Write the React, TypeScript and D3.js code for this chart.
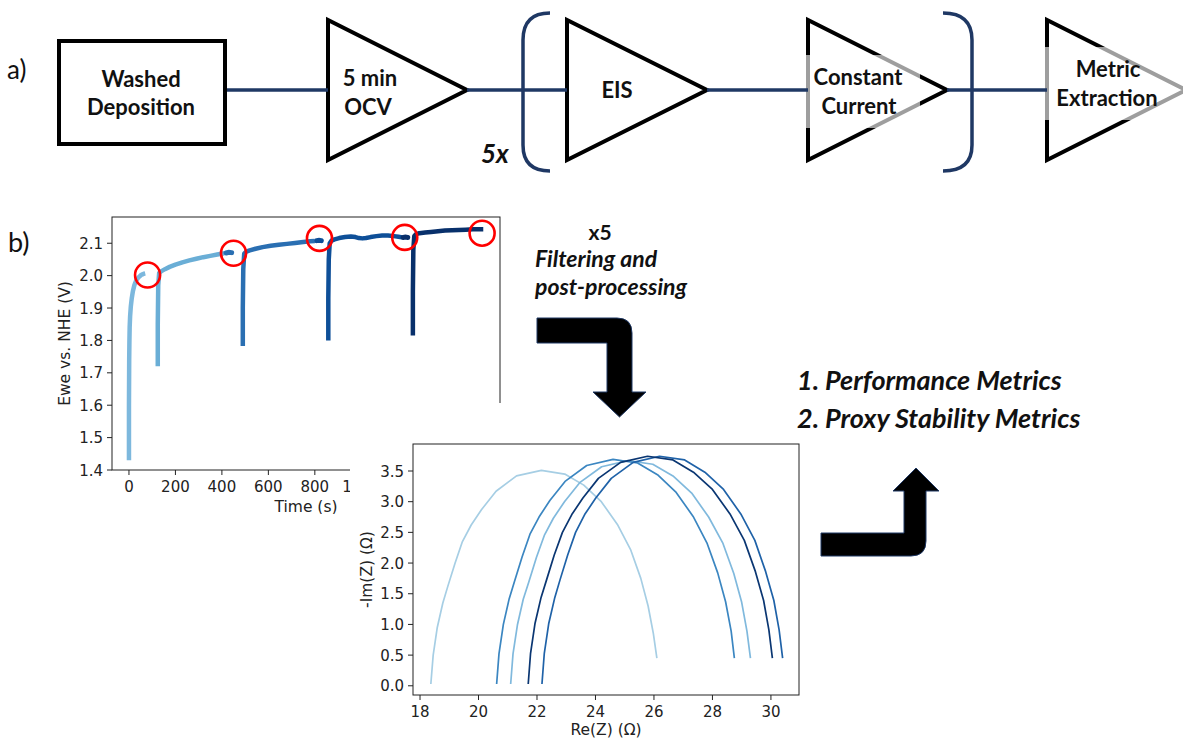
import React, { useEffect } from 'react';
import * as d3 from 'd3';

const W = 1183;
const H = 738;

// ---- Chronopotentiometry: five constant-current steps (time s, Ewe V vs NHE)
const stepTime1 = [0, 0, 1, 2, 3, 5, 8, 12, 17, 23, 30, 38, 46, 52, 58, 64, 70];
const stepVolt1 = [1.43, 1.6, 1.74, 1.8, 1.84, 1.875, 1.905, 1.93, 1.952, 1.97, 1.983, 1.992, 1.998, 2.002, 2.004, 2.006, 2.007];

const stepTime2 = [124, 124, 126, 130, 140, 155, 175, 200, 230, 260, 290, 320, 350, 380, 410];
const stepVolt2 = [1.72, 1.85, 1.97, 2.008, 2.014, 2.02, 2.027, 2.034, 2.041, 2.047, 2.052, 2.057, 2.061, 2.065, 2.069];

const stepTime3 = [490, 490, 492, 496, 505, 520, 545, 575, 610, 645, 680, 715, 750, 780, 800];
const stepVolt3 = [1.783, 1.9, 2.02, 2.068, 2.074, 2.078, 2.083, 2.088, 2.092, 2.095, 2.098, 2.101, 2.104, 2.106, 2.107];

const stepTime4 = [858, 858, 860, 864, 872, 885, 905, 930, 955, 975, 990, 1005, 1020, 1040, 1065, 1090, 1115, 1140, 1160, 1175];
const stepVolt4 = [1.8, 1.93, 2.05, 2.1, 2.108, 2.112, 2.116, 2.119, 2.121, 2.119, 2.116, 2.115, 2.116, 2.119, 2.122, 2.124, 2.124, 2.122, 2.12, 2.118];

const stepTime5 = [1222, 1222, 1224, 1228, 1236, 1250, 1275, 1300, 1330, 1360, 1390, 1420, 1450, 1480, 1505, 1525];
const stepVolt5 = [1.815, 1.95, 2.08, 2.122, 2.128, 2.131, 2.133, 2.135, 2.137, 2.139, 2.14, 2.141, 2.142, 2.143, 2.143, 2.143];

// short rest readings recorded before steps 3-5
const restTime3 = [418, 430, 442];
const restVolt3 = [2.07, 2.072, 2.071];
const restTime4 = [808, 818, 828];
const restVolt4 = [2.108, 2.109, 2.108];
const restTime5 = [1180, 1190, 1200];
const restVolt5 = [2.118, 2.119, 2.118];

const stepColors = ['#7db8dd', '#6aaed6', '#2a6fb2', '#0e4f98', '#08306b'];

// end-of-step potentials that are extracted (circled)
const markTime = [80, 450, 820, 1187, 1520];
const markVolt = [2.002, 2.069, 2.115, 2.118, 2.131];

const timeTicks = [0, 200, 400, 600, 800, 1000, 1200, 1400];
const voltTicks = [1.4, 1.5, 1.6, 1.7, 1.8, 1.9, 2.0, 2.1];

// ---- Nyquist sweeps: [Re(Z), -Im(Z)] in ohm
const sweep1: [number, number][] = [
  [18.37, 0.03], [18.45, 0.5], [18.59, 0.95], [18.78, 1.35], [18.95, 1.62], [19.2, 2.0], [19.45, 2.35],
  [19.75, 2.62], [20.1, 2.87], [20.6, 3.17], [21.3, 3.42], [22.15, 3.51], [22.95, 3.45], [23.6, 3.27],
  [24.2, 3.0], [24.75, 2.63], [25.2, 2.22], [25.55, 1.75], [25.8, 1.3], [25.98, 0.85], [26.1, 0.45],
];
const sweep2: [number, number][] = [
  [21.1, 0.03], [21.18, 0.52], [21.33, 0.99], [21.53, 1.41], [21.72, 1.69], [21.98, 2.09], [22.25, 2.45],
  [22.56, 2.73], [22.94, 3.0], [23.46, 3.31], [24.21, 3.57], [25.11, 3.67], [25.96, 3.61], [26.65, 3.42],
  [27.29, 3.14], [27.87, 2.75], [28.36, 2.32], [28.73, 1.83], [29.0, 1.36], [29.18, 0.89], [29.3, 0.45],
];
const sweep3: [number, number][] = [
  [20.62, 0.03], [20.7, 0.52], [20.85, 1.0], [21.05, 1.42], [21.23, 1.7], [21.49, 2.1], [21.76, 2.47],
  [22.07, 2.75], [22.44, 3.02], [22.96, 3.33], [23.7, 3.59], [24.6, 3.69], [25.44, 3.63], [26.12, 3.44],
  [26.76, 3.15], [27.34, 2.76], [27.81, 2.33], [28.18, 1.84], [28.45, 1.37], [28.64, 0.89], [28.75, 0.45],
];
const sweep4: [number, number][] = [
  [22.17, 0.03], [22.25, 0.53], [22.4, 1.01], [22.61, 1.44], [22.79, 1.73], [23.05, 2.13], [23.32, 2.5],
  [23.63, 2.79], [24.01, 3.06], [24.54, 3.38], [25.29, 3.64], [26.19, 3.74], [27.05, 3.68], [27.74, 3.48],
  [28.38, 3.2], [28.97, 2.8], [29.45, 2.37], [29.82, 1.86], [30.1, 1.39], [30.28, 0.91], [30.4, 0.45],
];
const sweep5: [number, number][] = [
  [21.7, 0.03], [21.78, 0.53], [21.93, 1.01], [22.14, 1.44], [22.33, 1.73], [22.59, 2.13], [22.87, 2.5],
  [23.19, 2.79], [23.57, 3.06], [24.1, 3.38], [24.86, 3.64], [25.78, 3.74], [26.65, 3.68], [27.35, 3.48],
  [28.0, 3.2], [28.6, 2.8], [29.09, 2.37], [29.47, 1.86], [29.75, 1.39], [29.93, 0.91], [30.05, 0.45],
];
const sweepColors = ['#a6cee4', '#80b9dd', '#3b86c1', '#1f62a8', '#0a3672'];

const reTicks = [18, 20, 22, 24, 26, 28, 30];
const imTicks = [0, 0.5, 1.0, 1.5, 2.0, 2.5, 3.0, 3.5];

const DIAG_FONT = 'Lato, "Open Sans", sans-serif';
const PLOT_FONT = '"DejaVu Sans", sans-serif';
const NAVY = '#1f3864';

function Triangle({ x, tip }: { x: number; tip: number }) {
  return (
    <polygon
      points={`${x},20 ${x},160 ${tip},90`}
      fill="white"
      stroke="black"
      strokeWidth={4}
      strokeLinejoin="miter"
    />
  );
}

function PotentialPanel() {
  const x = d3.scaleLinear().domain([-73, 1597]).range([112, 500]);
  const y = d3.scaleLinear().domain([1.4, 2.181]).range([470, 217]);
  const path = (ts: number[], vs: number[]) =>
    d3
      .line<[number, number]>()
      .x((d) => x(d[0]))
      .y((d) => y(d[1]))(ts.map((t, i) => [t, vs[i]] as [number, number])) || '';

  const steps = [
    [stepTime1, stepVolt1],
    [stepTime2, stepVolt2],
    [stepTime3, stepVolt3],
    [stepTime4, stepVolt4],
    [stepTime5, stepVolt5],
  ];
  const rests = [
    [restTime3, restVolt3, 2],
    [restTime4, restVolt4, 3],
    [restTime5, restVolt5, 4],
  ] as [number[], number[], number][];

  return (
    <g>
      <defs>
        <clipPath id="potential-frame">
          <rect x={0} y={200} width={520} height={314} />
        </clipPath>
        <clipPath id="potential-plot">
          <rect x={112} y={217} width={388} height={253} />
        </clipPath>
      </defs>
      <g clipPath="url(#potential-frame)">
        <g clipPath="url(#potential-plot)">
          {steps.map(([ts, vs], i) => (
            <path key={i} d={path(ts, vs)} fill="none" stroke={stepColors[i]} strokeWidth={4.5} strokeLinejoin="round" />
          ))}
          {rests.map(([ts, vs, c], i) => (
            <path key={i} d={path(ts, vs)} fill="none" stroke={stepColors[c]} strokeWidth={5} strokeLinecap="round" />
          ))}
        </g>
        {markTime.map((t, i) => (
          <circle key={i} cx={x(t)} cy={y(markVolt[i])} r={12.5} fill="none" stroke="#ff0000" strokeWidth={2.6} />
        ))}
        <rect x={112} y={217} width={388} height={253} fill="none" stroke="#222" strokeWidth={1} />
        {voltTicks.map((v) => (
          <g key={v}>
            <line x1={107} x2={112} y1={y(v)} y2={y(v)} stroke="#222" />
            <text x={103} y={y(v) + 5.5} textAnchor="end" fontSize={15} fontFamily={PLOT_FONT} fill="#222">
              {v.toFixed(1)}
            </text>
          </g>
        ))}
        {timeTicks.map((t) => (
          <g key={t}>
            <line x1={x(t)} x2={x(t)} y1={470} y2={475} stroke="#222" />
            <text x={x(t)} y={492} textAnchor="middle" fontSize={15} fontFamily={PLOT_FONT} fill="#222">
              {t}
            </text>
          </g>
        ))}
        <text x={306} y={512} textAnchor="middle" fontSize={15.5} fontFamily={PLOT_FONT} fill="#222">
          Time (s)
        </text>
        <text
          transform={`translate(70,343.5) rotate(-90)`}
          textAnchor="middle"
          fontSize={15.5}
          fontFamily={PLOT_FONT}
          fill="#222"
        >
          Ewe vs. NHE (V)
        </text>
      </g>
    </g>
  );
}

function NyquistPanel() {
  const x = d3.scaleLinear().domain([17.76, 30.96]).range([413, 799]);
  const y = d3.scaleLinear().domain([-0.15, 3.94]).range([695, 444]);
  const line = d3
    .line<[number, number]>()
    .x((d) => x(d[0]))
    .y((d) => y(d[1]));
  const sweeps = [sweep1, sweep2, sweep3, sweep4, sweep5];
  return (
    <g>
      <rect x={350} y={403} width={833} height={335} fill="white" />
      {sweeps.map((s, i) => (
        <path key={i} d={line(s) || ''} fill="none" stroke={sweepColors[i]} strokeWidth={1.7} strokeLinejoin="round" />
      ))}
      <rect x={413} y={444} width={386} height={251} fill="none" stroke="#222" strokeWidth={1} />
      {imTicks.map((v) => (
        <g key={v}>
          <line x1={408} x2={413} y1={y(v)} y2={y(v)} stroke="#222" />
          <text x={404} y={y(v) + 5.5} textAnchor="end" fontSize={15} fontFamily={PLOT_FONT} fill="#222">
            {v.toFixed(1)}
          </text>
        </g>
      ))}
      {reTicks.map((v) => (
        <g key={v}>
          <line x1={x(v)} x2={x(v)} y1={695} y2={700} stroke="#222" />
          <text x={x(v)} y={717} textAnchor="middle" fontSize={15} fontFamily={PLOT_FONT} fill="#222">
            {v}
          </text>
        </g>
      ))}
      <text x={606} y={735} textAnchor="middle" fontSize={15.5} fontFamily={PLOT_FONT} fill="#222">
        Re(Z) (Ω)
      </text>
      <text
        transform={`translate(372,569.5) rotate(-90)`}
        textAnchor="middle"
        fontSize={15.5}
        fontFamily={PLOT_FONT}
        fill="#222"
      >
        -Im(Z) (Ω)
      </text>
    </g>
  );
}

function Workflow() {
  return (
    <g fontFamily={DIAG_FONT}>
      <text x={7} y={79} fontSize={26} fill="#111">a)</text>
      {/* deposition box */}
      <rect x={59} y={41} width={166} height={103} fill="white" stroke="black" strokeWidth={4} />
      <text x={141} y={87} textAnchor="middle" fontSize={22} fontWeight={700} fill="#111">Washed</text>
      <text x={141} y={115} textAnchor="middle" fontSize={22} fontWeight={700} fill="#111">Deposition</text>
      {/* steps */}
      <Triangle x={328} tip={467} />
      <text x={370} y={86} textAnchor="middle" fontSize={22} fontWeight={700} fill="#111">5 min</text>
      <text x={368} y={115} textAnchor="middle" fontSize={22} fontWeight={700} fill="#111">OCV</text>
      <Triangle x={567} tip={707} />
      <text x={617} y={98} textAnchor="middle" fontSize={22} fontWeight={700} fill="#111">EIS</text>
      <Triangle x={808} tip={947} />
      <rect x={797} y={55} width={123} height={73} fill="white" fillOpacity={0.62} />
      <text x={858} y={85} textAnchor="middle" fontSize={22} fontWeight={700} fill="#111">Constant</text>
      <text x={859} y={114} textAnchor="middle" fontSize={22} fontWeight={700} fill="#111">Current</text>
      <Triangle x={1047} tip={1186} />
      <rect x={1032} y={47} width={151} height={73} fill="white" fillOpacity={0.62} />
      <text x={1108} y={77} textAnchor="middle" fontSize={22} fontWeight={700} fill="#111">Metric</text>
      <text x={1107} y={106} textAnchor="middle" fontSize={22} fontWeight={700} fill="#111">Extraction</text>
      {/* connectors */}
      <line x1={227} x2={328} y1={90} y2={90} stroke={NAVY} strokeWidth={3.5} />
      <line x1={467} x2={567} y1={90} y2={90} stroke={NAVY} strokeWidth={3.5} />
      <line x1={707} x2={808} y1={90} y2={90} stroke={NAVY} strokeWidth={3.5} />
      <line x1={947} x2={1047} y1={90} y2={90} stroke={NAVY} strokeWidth={3.5} />
      {/* repeat brackets */}
      <path d="M550,13 Q523,13 523,40 L523,145 Q523,171 550,171" fill="none" stroke={NAVY} strokeWidth={3.5} />
      <path d="M943,13 Q972,13 972,40 L972,145 Q972,171 943,171" fill="none" stroke={NAVY} strokeWidth={3.5} />
      <text x={481} y={163} fontSize={26} fontWeight={700} fontStyle="italic" fill="#111">5x</text>
    </g>
  );
}

function Annotations() {
  return (
    <g fontFamily={DIAG_FONT} fill="#111">
      <text x={8} y={252} fontSize={27}>b)</text>
      <text x={600} y={240} textAnchor="middle" fontSize={21} fontWeight={700}>x5</text>
      <text x={535} y={267} fontSize={23} fontWeight={700} fontStyle="italic">Filtering and</text>
      <text x={535} y={295} fontSize={23} fontWeight={700} fontStyle="italic">post-processing</text>
      <path
        d="M537,318 L617,318 Q632,318 632,333 L632,392 L646,392 L619.5,417 L593,392 L607,392 L607,343 L537,343 Z"
        fill="black"
        stroke={NAVY}
        strokeWidth={1}
      />
      <text x={797} y={390} fontSize={27} fontWeight={700} fontStyle="italic">1. Performance Metrics</text>
      <text x={797} y={428} fontSize={27} fontWeight={700} fontStyle="italic">2. Proxy Stability Metrics</text>
      <path
        d="M821,533 L904,533 L904,491 L893,491 L916,468 L939,491 L926,491 L926,541 Q926,556 911,556 L821,556 Z"
        fill="black"
        stroke={NAVY}
        strokeWidth={1}
      />
    </g>
  );
}

export default function App() {
  useEffect(() => {
    document.body.style.margin = '0';
  }, []);
  return (
    <svg
      width={W}
      height={H}
      viewBox={`0 0 ${W} ${H}`}
      style={{ position: 'absolute', left: 0, top: 0, background: 'white' }}
    >
      <rect x={0} y={0} width={W} height={H} fill="white" />
      <Workflow />
      <PotentialPanel />
      <NyquistPanel />
      <Annotations />
    </svg>
  );
}
